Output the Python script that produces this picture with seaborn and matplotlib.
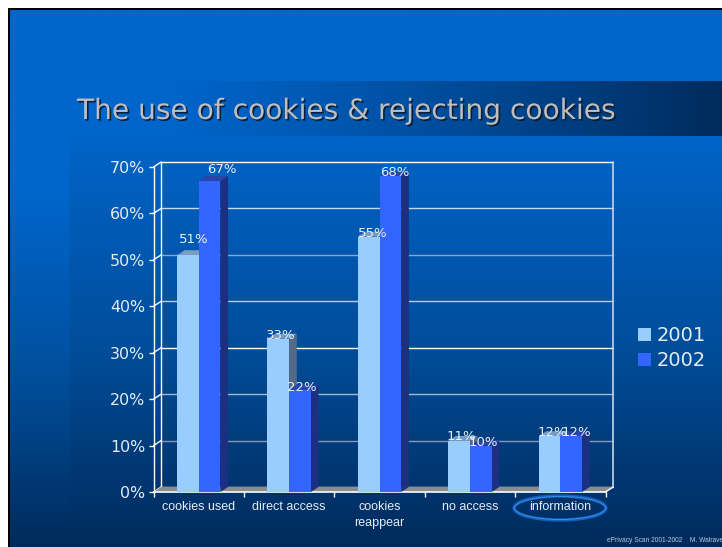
# -*- coding: utf8 -*-

import matplotlib
matplotlib.use('Agg')
import matplotlib.pyplot as plt
import matplotlib.patheffects as pe
from matplotlib.colors import LinearSegmentedColormap, to_rgba
from matplotlib.patches import Ellipse, Polygon, Rectangle
import numpy as np
import pandas as pd
import seaborn as sns

categories = ['cookies used', 'direct access', 'cookies\nreappear', 'no access', 'information']
values_2001 = [51, 33, 55, 11, 12]
values_2002 = [67, 22, 68, 10, 12]
years = ['2001', '2002']
y_ticks = [0, 10, 20, 30, 40, 50, 60, 70]

title = 'The use of cookies & rejecting cookies'
footer = 'ePrivacy Scan 2001-2002    M. Walrave'

W, H = 722, 547
# 3d look: how far the back wall is shifted from the front plane (data units)
DX = 0.085
DY = 1.08

colors = {'2001': '#99CCFF', '2002': '#3366FF'}
side_colors = {'2001': '#556A88', '2002': '#1C2F80'}
top_colors = {'2001': '#7A9CC0', '2002': '#2A44A8'}
grid_colors = ['#FFFFFF', '#8898B8', '#A8B8C8', '#FFFFFF', '#B8CCE0', '#88A8D0', '#C8D8EC', '#FFFFFF']
# offset of each value label from the bar's top centre, pixels
label_shift = {'2001': [(6, 16), (3, 3), (4, 3), (2, 4), (3, 4)],
               '2002': [(12, 11), (2, 2), (4, 4), (3, 3), (5, 4)]}

sns.set_theme(style='white')
plt.rcParams['font.family'] = ['DejaVu Sans']

fig = plt.figure(figsize=(W / 100, H / 100), dpi=100, facecolor='white')

# slide background, pixel coordinates
bg = fig.add_axes([0, 0, 1, 1])
bg.set_xlim(0, W)
bg.set_ylim(H, 0)
bg.axis('off')
bg.add_patch(Rectangle((8, 8), W, H, color='black', lw=0))
slide = LinearSegmentedColormap.from_list('slide', ['#0066CC', '#0066CC', '#00509F', '#002B5C'])
bg.imshow(np.linspace(0, 1, 256).reshape(-1, 1), cmap=slide, aspect='auto', extent=(10, W, H, 10), zorder=1)
panel = LinearSegmentedColormap.from_list('panel', ['#0064C8', '#004E9C', '#002B5C'])
bg.imshow(np.linspace(0, 1, 256).reshape(-1, 1), cmap=panel, aspect='auto', extent=(70, W, H, 136), zorder=2)
fade = np.zeros((1, 256, 4))
fade[..., :3] = to_rgba('#002B5C')[:3]
fade[..., 3] = np.linspace(0, 1, 256) ** 1.3
bg.imshow(fade, aspect='auto', extent=(130, W, 136, 81), zorder=3)
bg.set_xlim(0, W)
bg.set_ylim(H, 0)
bg.text(77, 111, title, color='#BEBEBE', fontsize=20.2, va='center', ha='left', zorder=5,
        path_effects=[pe.withSimplePatchShadow(offset=(1.2, -1.2), shadow_rgbFace='#0A1A30', alpha=0.9)])
bg.text(W + 1, 541, footer, color='#B8C8DC', fontsize=4.8, family='Liberation Sans', ha='right', va='center', zorder=5)
bg.add_patch(Ellipse((560, 508), 92, 24, fill=False, ec='#1060C0', lw=2.4, zorder=5))
bg.add_patch(Ellipse((560, 508), 91, 23, fill=False, ec='#3C90E0', lw=0.7, zorder=6))

# chart, front plane spans 153.5..605.5 x 167..492 px
ax = fig.add_axes([153.5 / W, 1 - 492 / H, 452 / W, 325 / H])
ax.patch.set_alpha(0)

df = pd.DataFrame({
    'category': categories * 2,
    'value': values_2001 + values_2002,
    'year': [years[0]] * 5 + [years[1]] * 5,
})
sns.barplot(data=df, x='category', y='value', hue='year', palette=colors, saturation=1,
            width=0.48, gap=0, linewidth=0, zorder=3, ax=ax)

ax.set_xlim(-0.5, 4.5)
ax.set_ylim(0, 70)
ax.set_xlabel('')
ax.set_ylabel('')
for s in ax.spines.values():
    s.set_visible(False)

# back wall, left wall and floor
for y, c in zip(y_ticks, grid_colors):
    ax.plot([-0.5 + DX, 4.5 + DX], [y + DY, y + DY], color=c, lw=1, zorder=1, clip_on=False)
    ax.plot([-0.5, -0.5 + DX], [y, y + DY], color='white', lw=1, zorder=1, clip_on=False)
ax.plot([4.5 + DX] * 2, [DY, 70 + DY], color='#C8D4E4', lw=1.2, zorder=1, clip_on=False)
ax.plot([-0.5 + DX] * 2, [DY, 70 + DY], color='white', lw=1, zorder=1, clip_on=False)
ax.plot([-0.5] * 2, [0, 70], color='white', lw=1, zorder=1, clip_on=False)
ax.add_patch(Polygon([(-0.5, 0), (4.5, 0), (4.5 + DX, DY), (-0.5 + DX, DY)], color='#8C8C8C', lw=0, zorder=1.5, clip_on=False))
ax.plot([-0.5, 4.5], [0, 0], color='white', lw=1.2, zorder=2, clip_on=False)
ax.plot([4.5, 4.5 + DX], [0, DY], color='white', lw=1, zorder=2, clip_on=False)

# side and top faces worked out from the bars seaborn drew
for i, (year, bars) in enumerate(zip(years, ax.containers)):
    for j, bar in enumerate(bars):
        x0, x1 = bar.get_x(), bar.get_x() + bar.get_width()
        h = bar.get_height()
        bar.set_zorder(3 + 2 * i)
        ax.add_patch(Polygon([(x1, 0), (x1 + DX, DY), (x1 + DX, h + DY), (x1, h)],
                             color=side_colors[year], lw=0, zorder=2 + 2 * i))
        ax.add_patch(Polygon([(x0, h), (x0 + DX, h + DY), (x1 + DX, h + DY), (x1, h)],
                             color=top_colors[year], lw=0, zorder=2 + 2 * i))
        ax.annotate('%d%%' % h, ((x0 + x1) / 2, h), xytext=label_shift[year][j], textcoords='offset pixels',
                    ha='center', va='center', color='#E8F0F8', fontsize=9.5, zorder=8, annotation_clip=False)

ax.set_yticks(y_ticks, ['%d%%' % y for y in y_ticks])
ax.set_xticks(range(5), categories)
ax.set_xticks(np.arange(-0.5, 5), minor=True)
ax.tick_params(axis='y', left=True, length=3.5, width=1, color='white', labelcolor='#E4ECF4', labelsize=11.4, pad=2.5)
ax.tick_params(axis='x', which='major', bottom=False, labelcolor='#E4ECF4', labelsize=9, pad=0.5)
ax.tick_params(axis='x', which='minor', bottom=True, length=3.5, width=1, color='white')
for t in ax.get_xticklabels():
    t.set_family('Liberation Sans')
    t.set_linespacing(1.4)

sns.move_legend(ax, 'center left', bbox_to_anchor=(1.073, 0.442), title=None, frameon=False,
                labelcolor='#E4ECF4', fontsize=14, handlelength=0.66, handleheight=0.66,
                handletextpad=0.26, labelspacing=0.32, borderpad=0, borderaxespad=0)

fig.savefig('out.png', dpi=100, facecolor='white')
